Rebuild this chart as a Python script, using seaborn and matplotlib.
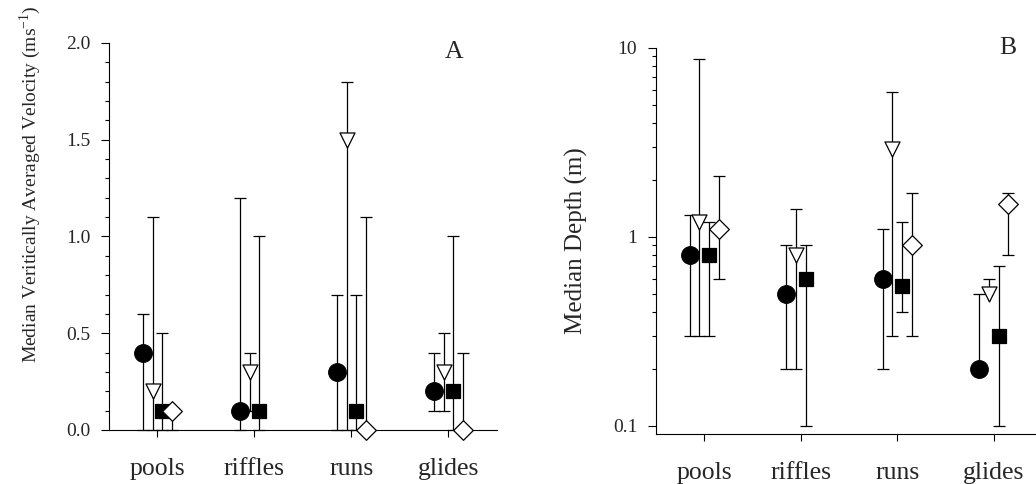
import matplotlib
matplotlib.use('Agg')
import matplotlib.pyplot as plt
import matplotlib.ticker as mticker
import numpy as np
import seaborn as sns

habitats = ['pools', 'riffles', 'runs', 'glides']
offsets = [-0.15, -0.05, 0.05, 0.15]

# Panel A: median velocity (m/s) with min / max
vel_circle = [0.4, 0.1, 0.3, 0.2]
vel_circle_lo = [0.0, 0.0, 0.0, 0.1]
vel_circle_hi = [0.6, 1.2, 0.7, 0.4]

vel_tri = [0.2, 0.3, 1.5, 0.3]
vel_tri_lo = [0.0, 0.1, 0.0, 0.1]
vel_tri_hi = [1.1, 0.4, 1.8, 0.5]

vel_square = [0.1, 0.1, 0.1, 0.2]
vel_square_lo = [0.0, 0.0, 0.0, 0.0]
vel_square_hi = [0.5, 1.0, 0.7, 1.0]

vel_diamond = [0.1, np.nan, 0.0, 0.0]
vel_diamond_lo = [0.0, np.nan, 0.0, 0.0]
vel_diamond_hi = [0.1, np.nan, 1.1, 0.4]

# Panel B: median depth (m) with min / max
dep_circle = [0.8, 0.5, 0.6, 0.2]
dep_circle_lo = [0.3, 0.2, 0.2, 0.2]
dep_circle_hi = [1.3, 0.9, 1.1, 0.5]

dep_tri = [1.2, 0.8, 2.9, 0.5]
dep_tri_lo = [0.3, 0.2, 0.3, 0.5]
dep_tri_hi = [8.7, 1.4, 5.8, 0.6]

dep_square = [0.8, 0.6, 0.55, 0.3]
dep_square_lo = [0.3, 0.1, 0.4, 0.1]
dep_square_hi = [1.2, 0.9, 1.2, 0.7]

dep_diamond = [1.1, np.nan, 0.9, 1.5]
dep_diamond_lo = [0.6, np.nan, 0.3, 0.8]
dep_diamond_hi = [2.1, np.nan, 1.7, 1.7]

sns.set_style('ticks')
plt.rcParams['font.family'] = ['Liberation Serif', 'DejaVu Serif']
plt.rcParams['mathtext.fontset'] = 'custom'
plt.rcParams['mathtext.rm'] = 'Liberation Serif'
plt.rcParams['axes.linewidth'] = 0.8
plt.rcParams['axes.edgecolor'] = 'black'


def draw_series(ax, i, med, lo, hi, marker, size, fill):
    x = np.arange(len(habitats)) + offsets[i]
    med = np.asarray(med, float)
    lo = np.asarray(lo, float)
    hi = np.asarray(hi, float)
    ok = ~np.isnan(med)
    ax.vlines(x[ok], lo[ok], hi[ok], color='black', lw=0.9, zorder=2)
    top = ok & (hi > med)
    bot = ok & (lo < med)
    ax.plot(x[top], hi[top], ls='none', marker='_', ms=8.6, mew=0.9,
            color='black', zorder=2)
    ax.plot(x[bot], lo[bot], ls='none', marker='_', ms=8.6, mew=0.9,
            color='black', zorder=2, clip_on=False)
    sns.scatterplot(x=x[ok], y=med[ok], marker=marker, s=size, color=fill,
                    edgecolor='black', linewidth=0.9, zorder=3,
                    clip_on=False, legend=False, ax=ax)


def style_axis(ax):
    sns.despine(ax=ax)
    ax.set_xlim(-0.5, 3.5)
    ax.set_xticks(range(len(habitats)))
    ax.set_xticklabels(habitats, fontsize=18.5)
    ax.tick_params(axis='x', direction='out', length=5, width=0.8, pad=15,
                   color='black')
    ax.tick_params(axis='y', which='major', direction='out', length=5.5,
                   width=0.8, pad=8, labelsize=14, color='black')
    ax.tick_params(axis='y', which='minor', direction='out', length=3,
                   width=0.8, color='black')
    ax.set_xlabel('')


fig = plt.figure(figsize=(10.36, 4.84), dpi=100)
axA = fig.add_axes([0.1052, 0.1116, 0.3745, 0.7996])
axB = fig.add_axes([0.6332, 0.1033, 0.3726, 0.798])

# Panel A
draw_series(axA, 0, vel_circle, vel_circle_lo, vel_circle_hi, 'o', 160, 'black')
draw_series(axA, 1, vel_tri, vel_tri_lo, vel_tri_hi, 'v', 117, 'white')
draw_series(axA, 2, vel_square, vel_square_lo, vel_square_hi, 's', 92, 'black')
draw_series(axA, 3, vel_diamond, vel_diamond_lo, vel_diamond_hi, 'D', 100, 'white')
axA.set_ylim(0, 2.0)
axA.yaxis.set_major_locator(mticker.MultipleLocator(0.5))
axA.yaxis.set_minor_locator(mticker.MultipleLocator(0.1))
axA.yaxis.set_major_formatter(mticker.FormatStrFormatter('%.1f'))
style_axis(axA)
axA.set_ylabel(r'Median Veritically Averaged Velocity (ms$^{\mathrm{-1}}$)',
               fontsize=14)
axA.yaxis.set_label_coords(-0.17, 0.636)
axA.text(0.889, 0.977, 'A', transform=axA.transAxes, fontsize=18.5,
         ha='center', va='center')

# Panel B
draw_series(axB, 0, dep_circle, dep_circle_lo, dep_circle_hi, 'o', 160, 'black')
draw_series(axB, 1, dep_tri, dep_tri_lo, dep_tri_hi, 'v', 117, 'white')
draw_series(axB, 2, dep_square, dep_square_lo, dep_square_hi, 's', 92, 'black')
draw_series(axB, 3, dep_diamond, dep_diamond_lo, dep_diamond_hi, 'D', 100, 'white')
axB.set_yscale('log')
axB.set_ylim(0.0905, 10)
axB.yaxis.set_major_locator(mticker.FixedLocator([0.1, 1, 10]))
axB.yaxis.set_major_formatter(mticker.FixedFormatter(['0.1', '1', '10']))
axB.yaxis.set_minor_locator(mticker.LogLocator(base=10, subs=np.arange(2, 10)))
axB.yaxis.set_minor_formatter(mticker.NullFormatter())
style_axis(axB)
axB.set_ylabel('Median Depth (m)', fontsize=18)
axB.yaxis.set_label_coords(-0.176, 0.5)
axB.text(0.912, 1.0, 'B', transform=axB.transAxes, fontsize=18.5,
         ha='center', va='center')

fig.savefig('out.png', dpi=100)
